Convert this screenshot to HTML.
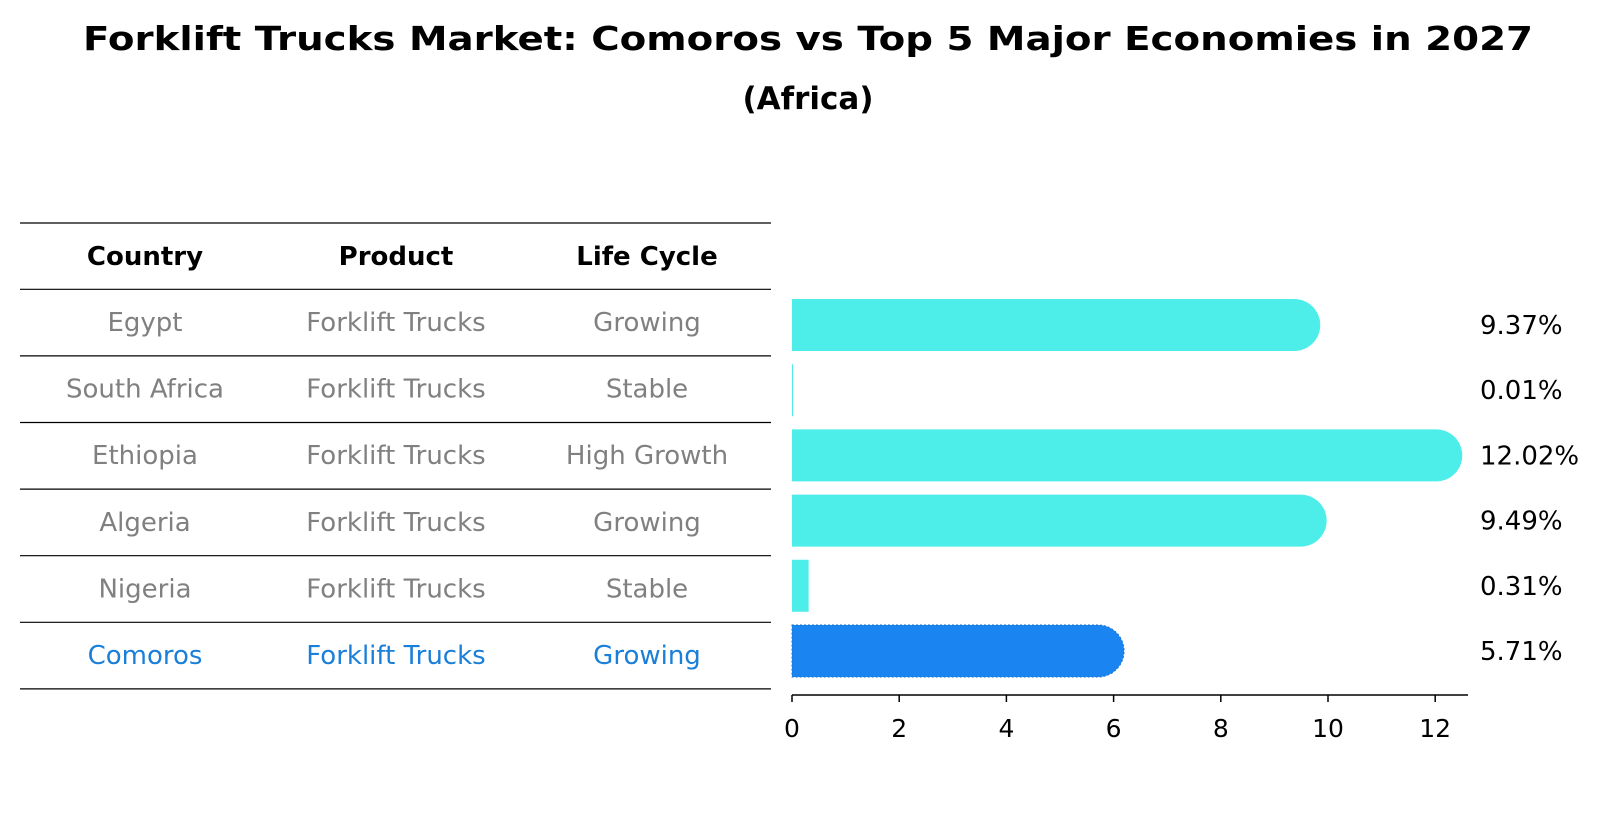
<!DOCTYPE html>
<html><head><meta charset="utf-8"><style>
body{margin:0;background:#fff}
svg{display:block;font-family:"DejaVu Sans","Liberation Sans",sans-serif}
</style></head><body>
<svg id="chart" width="1604" height="823" viewBox="0 0 1604 823">
<text x="808" y="50" text-anchor="middle" font-size="33" font-weight="bold" textLength="1450" lengthAdjust="spacingAndGlyphs">Forklift Trucks Market: Comoros vs Top 5 Major Economies in 2027</text>
<text x="808" y="109" text-anchor="middle" font-size="31" font-weight="bold">(Africa)</text>
<g id="table"></g>
<g id="bars"></g>
</svg>
<script>
const countries=["Egypt","South Africa","Ethiopia","Algeria","Nigeria","Comoros"];
const products=["Forklift Trucks","Forklift Trucks","Forklift Trucks","Forklift Trucks","Forklift Trucks","Forklift Trucks"];
const lifeCycles=["Growing","Stable","High Growth","Growing","Stable","Growing"];
const values=[9.37,0.01,12.02,9.49,0.31,5.71];
const valueLabels=["9.37%","0.01%","12.02%","9.49%","0.31%","5.71%"];
const ticks=[0,2,4,6,8,10,12];

const NS="http://www.w3.org/2000/svg";
function mk(tag,attrs,parent,text){const e=document.createElementNS(NS,tag);for(const k in attrs)e.setAttribute(k,attrs[k]);if(text!==undefined)e.textContent=text;parent.appendChild(e);return e;}
const tbl=document.getElementById('table'),bars=document.getElementById('bars');
const x0=792,xs=53.6;const X=v=>x0+v*xs;
const rowY=i=>322+i*66.6;
const barY=i=>325+i*65.2;
const colX=[145,396,647];
for(let i=0;i<8;i++){const y=i===0?223:256+i*66.6-33.3;
const l=mk('line',{x1:20,x2:771,y1:y,y2:y,stroke:'#000','stroke-width':1.2},tbl);

}
["Country","Product","Life Cycle"].forEach((h,j)=>{
const t=mk('text',{x:colX[j],y:265,'text-anchor':'middle','font-size':26,'font-weight':'bold'},tbl,h);

});
countries.forEach((c,i)=>{const col=i===5?'#1a7fd9':'#808080';
[c,products[i],lifeCycles[i]].forEach((s,j)=>{
const t=mk('text',{x:colX[j],y:rowY(i)+9,'text-anchor':'middle','font-size':26,fill:col},tbl,s);

});});
const bh=52;
values.forEach((v,i)=>{const cy=barY(i);const w=X(v)-x0;
const col=i===5?'#1a85f0':'#4deeea';
let d;
if(w>bh/2){d=`M${x0},${cy-bh/2} H${X(v)} A${bh/2},${bh/2} 0 0 1 ${X(v)},${cy+bh/2} H${x0} Z`;}
else{d=`M${x0},${cy-bh/2} H${x0+Math.max(w,1)} V${cy+bh/2} H${x0} Z`;}
const p=mk('path',{d:d,fill:col},bars);
if(i===5){p.setAttribute('stroke','#1570d0');p.setAttribute('stroke-dasharray','2,2');p.setAttribute('stroke-width','1');}


const t=mk('text',{x:1480,y:cy+9,'font-size':26},bars,valueLabels[i]);

});
const ax=mk('line',{x1:x0,x2:1468,y1:695,y2:695,stroke:'#000','stroke-width':1.5},bars);


ticks.forEach(t=>{
const l=mk('line',{x1:X(t),x2:X(t),y1:695,y2:702,stroke:'#000','stroke-width':1.5},bars);


const tx=mk('text',{x:X(t),y:737,'text-anchor':'middle','font-size':25},bars,String(t));

});
</script>
</body></html>
